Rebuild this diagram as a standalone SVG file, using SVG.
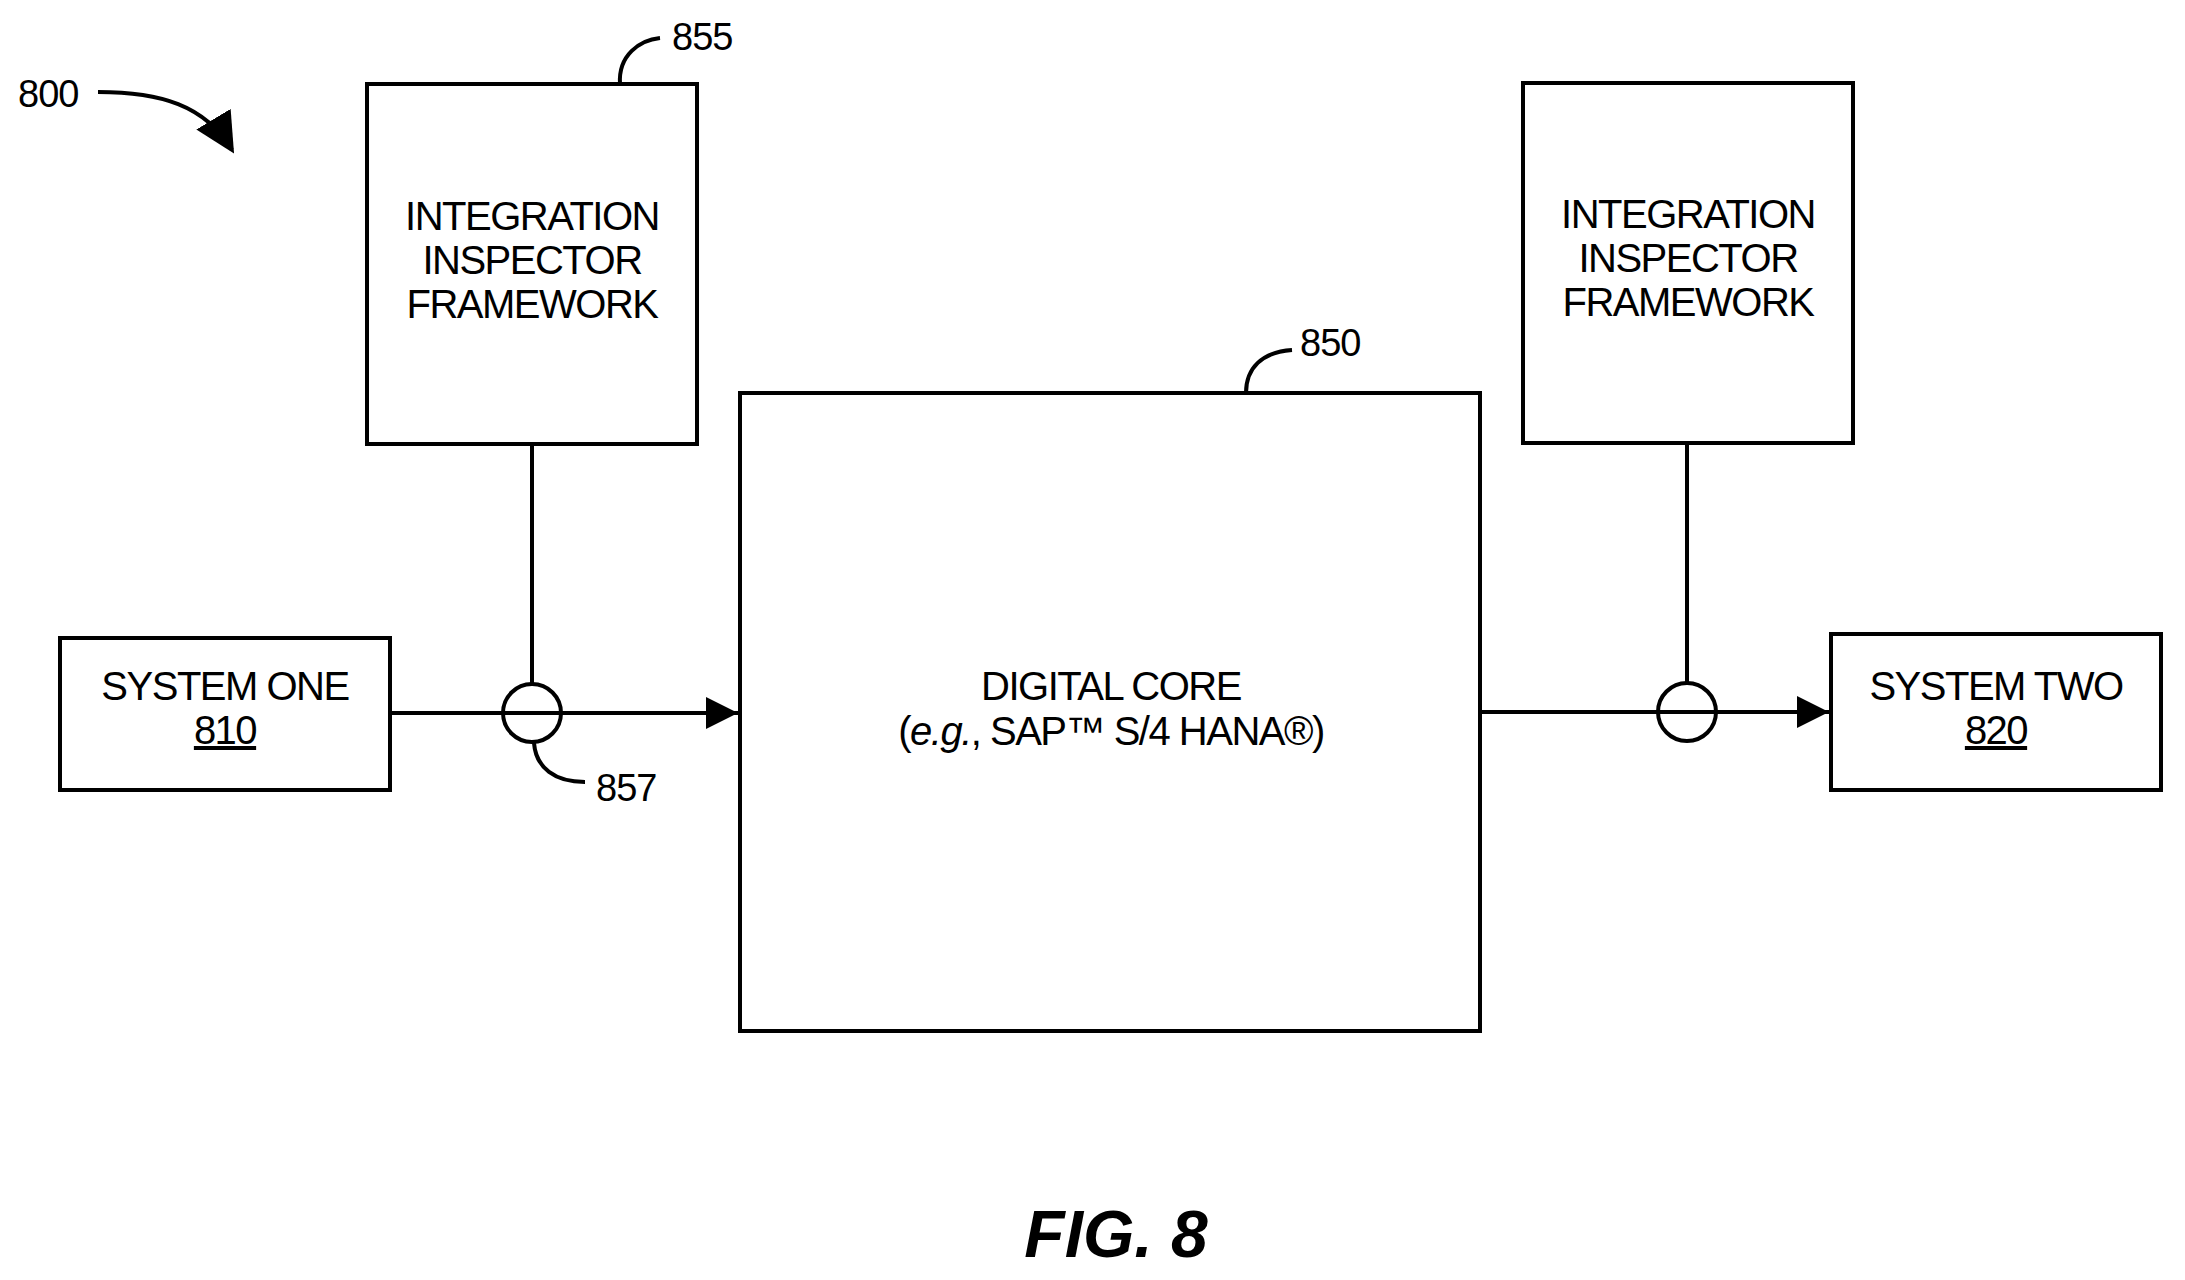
<svg xmlns="http://www.w3.org/2000/svg" width="2185" height="1280" viewBox="0 0 2185 1280">
<style>
.box{fill:#fff;stroke:#000;stroke-width:4}
.ln{fill:none;stroke:#000;stroke-width:4}
.t{font-family:"Liberation Sans",Arial,sans-serif;font-size:40px;letter-spacing:-1.5px;fill:#000;text-anchor:middle}
.r{font-family:"Liberation Sans",Arial,sans-serif;font-size:38px;letter-spacing:-1px;fill:#000}
</style>
<defs>
<marker id="ah" markerWidth="8" markerHeight="8" refX="8" refY="4" orient="auto" markerUnits="strokeWidth">
<path d="M0,0 L8,4 L0,8 Z" fill="#000"/>
</marker>
<marker id="ah2" markerWidth="10" markerHeight="10" refX="9" refY="5" orient="auto" markerUnits="strokeWidth">
<path d="M0,0 L10,5 L0,10 Z" fill="#000"/>
</marker>
</defs>
<g id="connectors">
<line class="ln" x1="390" y1="713" x2="738" y2="713" marker-end="url(#ah)"/>
<line class="ln" x1="532" y1="444" x2="532" y2="684"/>
<circle class="ln" cx="532" cy="713" r="29"/>
<line class="ln" x1="1480" y1="712" x2="1829" y2="712" marker-end="url(#ah)"/>
<line class="ln" x1="1687" y1="443" x2="1687" y2="683"/>
<circle class="ln" cx="1687" cy="712" r="29"/>
<path class="ln" d="M98,92 C160,92 205,105 232,150" marker-end="url(#ah2)"/>
<path class="ln" d="M620,84 C618,55 640,40 660,38"/>
<path class="ln" d="M1246,393 C1246,368 1262,352 1292,350"/>
<path class="ln" d="M534,743 C536,768 555,782 585,782"/>
</g>
<g id="n810"><rect class="box" x="60" y="638" width="330" height="152"/>
<text class="t" x="225" y="700">SYSTEM ONE</text><text class="t" x="225" y="744" text-decoration="underline">810</text></g>
<g id="n855"><rect class="box" x="367" y="84" width="330" height="360"/>
<text class="t" x="532" y="230">INTEGRATION</text><text class="t" x="532" y="274">INSPECTOR</text><text class="t" x="532" y="318">FRAMEWORK</text></g>
<g id="n850"><rect class="box" x="740" y="393" width="740" height="638"/>
<text class="t" x="1111" y="700">DIGITAL CORE</text><text class="t" x="1111" y="745">(<tspan font-style="italic">e.g.</tspan>, SAP™ S/4 HANA®)</text></g>
<g id="n855b"><rect class="box" x="1523" y="83" width="330" height="360"/>
<text class="t" x="1688" y="228">INTEGRATION</text><text class="t" x="1688" y="272">INSPECTOR</text><text class="t" x="1688" y="316">FRAMEWORK</text></g>
<g id="n820"><rect class="box" x="1831" y="634" width="330" height="156"/>
<text class="t" x="1996" y="700">SYSTEM TWO</text><text class="t" x="1996" y="744" text-decoration="underline">820</text></g>
<text class="r" x="18" y="107">800</text>
<text class="r" x="672" y="50">855</text>
<text class="r" x="1300" y="356">850</text>
<text class="r" x="596" y="801">857</text>
<text x="1116" y="1257" font-family="Liberation Sans,Arial,sans-serif" font-size="66" font-weight="bold" font-style="italic" text-anchor="middle">FIG. 8</text>
</svg>
